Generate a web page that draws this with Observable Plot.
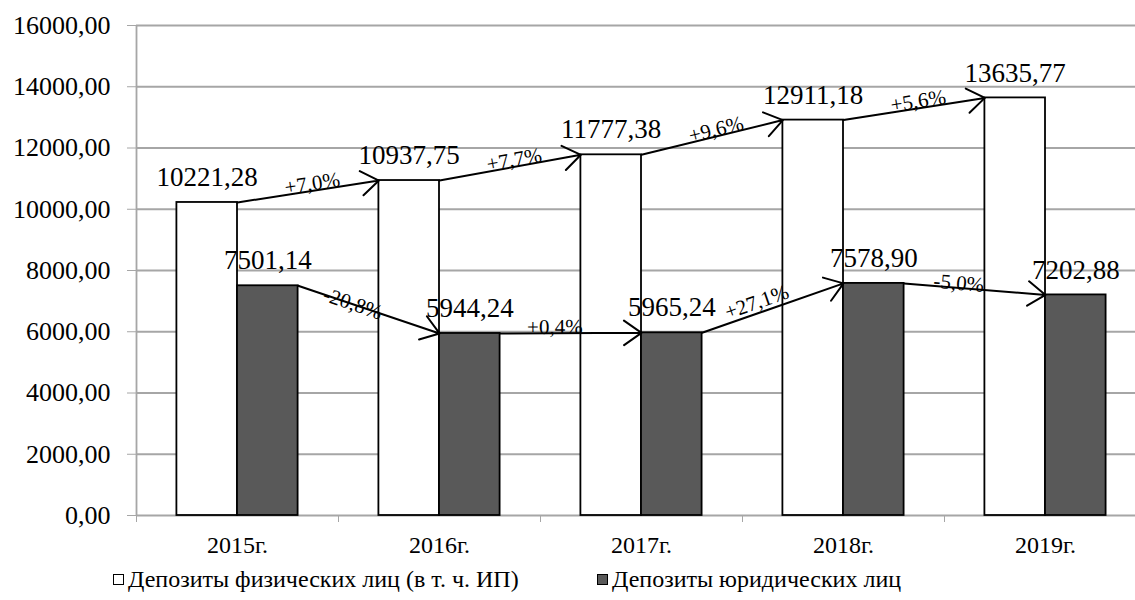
<!DOCTYPE html>
<html>
<head>
<meta charset="utf-8">
<script src="https://cdn.jsdelivr.net/npm/d3@7"></script>
<script src="https://cdn.jsdelivr.net/npm/@observablehq/plot@0.6"></script>
</head>
<body style="margin:0;padding:0;background:white;overflow:hidden">
<div id="chart"></div>
<div id="legend" style="font-family:'Liberation Serif';font-size:24px;color:black;height:40px;position:relative"></div>
<script>
const years = ["2015г.", "2016г.", "2017г.", "2018г.", "2019г."];
const individuals = [10221.28, 10937.75, 11777.38, 12911.18, 13635.77];
const legal = [7501.14, 5944.24, 5965.24, 7578.90, 7202.88];
const individualsChange = ["+7,0%", "+7,7%", "+9,6%", "+5,6%"];
const legalChange = ["-20,8%", "+0,4%", "+27,1%", "-5,0%"];
const seriesNames = ["Депозиты физических лиц (в т. ч. ИП)", "Депозиты юридических лиц"];
const yTicks = [0, 2000, 4000, 6000, 8000, 10000, 12000, 14000, 16000];

const fmt = v => v.toFixed(2).replace(".", ",");
const font = "'Liberation Serif'";

const xDomain = [0, years.length];
const xRange = [136, 1146];
const yDomain = [0, 16000];
const W = 1135, H = 560, mTop = 25, mBottom = 45;
const xs = d3.scaleLinear(xDomain, xRange);
const ys = d3.scaleLinear(yDomain, [H - mBottom, mTop]);

// bar layout inside each category (fractions of a category)
const phys = {a: 0.2, b: 0.5}, jur = {a: 0.5, b: 0.8};

function arrowsFor(vals, labels, side) {
  return labels.map((lab, i) => {
    const x1 = i + side.b, x2 = i + 1 + side.a;
    const y1 = vals[i], y2 = vals[i + 1];
    const ang = Math.atan2(ys(y2) - ys(y1), xs(x2) - xs(x1)) * 180 / Math.PI;
    return {x1, x2, y1, y2, xm: (x1 + x2) / 2, ym: (y1 + y2) / 2, label: lab, angle: ang};
  });
}
const arrP = arrowsFor(individuals, individualsChange, phys);
const arrJ = arrowsFor(legal, legalChange, jur);

const plot = Plot.plot({
  width: W, height: H,
  marginTop: mTop, marginBottom: mBottom, marginLeft: 136, marginRight: 0,
  style: {fontFamily: font, background: "white", overflow: "visible"},
  x: {domain: xDomain, range: xRange},
  y: {domain: yDomain},
  marks: [
    Plot.gridY(yTicks, {stroke: "#a6a6a6", strokeOpacity: 1, strokeWidth: 1.8}),
    Plot.ruleX([0], {y1: 0, y2: 16000, stroke: "#a6a6a6", strokeWidth: 1.8}),
    Plot.axisY({ticks: yTicks, tickSize: 9, tickPadding: 17, stroke: "#a6a6a6", fill: "black",
      tickFormat: fmt, fontSize: 26, label: null}),
    Plot.axisX({ticks: d3.range(0, years.length + 1), tickSize: 7, stroke: "#a6a6a6",
      tickFormat: () => "", label: null}),
    Plot.axisX({ticks: years.map((d, i) => i + 0.5), tickSize: 0, tickPadding: 20, fill: "black",
      tickFormat: d => years[Math.floor(d)], fontSize: 24, label: null}),
    Plot.rect(individuals, {x1: (d, i) => i + phys.a, x2: (d, i) => i + phys.b, y1: 0, y2: d => d,
      fill: "white", stroke: "black", strokeWidth: 1.8}),
    Plot.rect(legal, {x1: (d, i) => i + jur.a, x2: (d, i) => i + jur.b, y1: 0, y2: d => d,
      fill: "#595959", stroke: "black", strokeWidth: 1.8}),
    Plot.arrow(arrP, {x1: "x1", y1: "y1", x2: "x2", y2: "y2", stroke: "black", strokeWidth: 2,
      headLength: 16, headAngle: 70}),
    Plot.arrow(arrJ, {x1: "x1", y1: "y1", x2: "x2", y2: "y2", stroke: "black", strokeWidth: 2,
      headLength: 16, headAngle: 70}),
    Plot.text(arrP, {x: "xm", y: "ym", text: "label", rotate: "angle", dy: -8, dx: 4, fontSize: 21, fill: "black"}),
    Plot.text(arrJ, {x: "xm", y: "ym", text: "label", rotate: "angle", dy: -6, dx: -16, fontSize: 21, fill: "black"}),
    Plot.text(individuals, {x: (d, i) => i + (phys.a + phys.b) / 2, y: d => d, text: fmt, dy: -25,
      fontSize: 27, fill: "black"}),
    Plot.text(legal, {x: (d, i) => i + (jur.a + jur.b) / 2, y: d => d, text: fmt, dy: -25,
      fontSize: 27, fill: "black"})
  ]
});
d3.select(plot).selectAll("text").style("font-family", "'Liberation Serif'");
document.getElementById("chart").appendChild(plot);

const legend = document.getElementById("legend");
const fills = ["white", "#595959"];
const lefts = [113, 597];
seriesNames.forEach((name, i) => {
  const item = document.createElement("div");
  item.style.cssText = "display:flex;align-items:center;position:absolute;top:6px;left:" + lefts[i] + "px;font-family:'Liberation Serif'";
  const sw = document.createElement("span");
  sw.style.cssText = "display:inline-block;width:11px;height:11px;border:1.5px solid black;margin-right:4px;box-sizing:border-box;background:" + fills[i];
  const t = document.createElement("span");
  t.textContent = name;
  item.appendChild(sw);
  item.appendChild(t);
  legend.appendChild(item);
});
</script>
</body>
</html>
